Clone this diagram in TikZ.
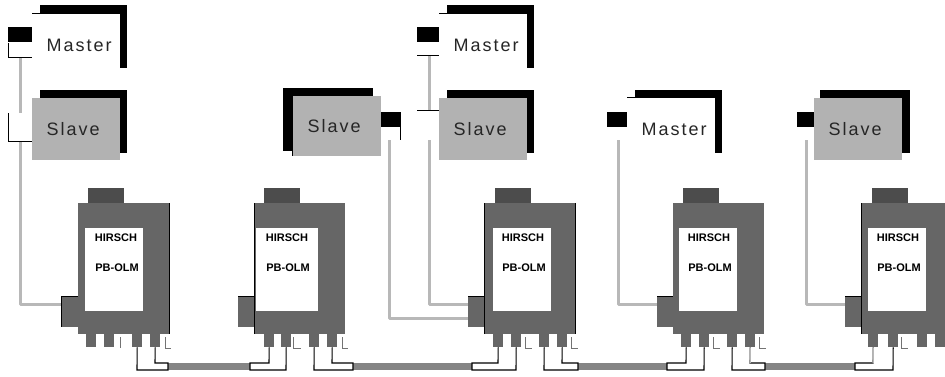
\documentclass[tikz,border=0pt]{standalone}
\usepackage{fontspec}
\setmainfont{Liberation Sans}
\newfontfamily\spacedfont[LetterSpace=11]{Liberation Sans}
\definecolor{bodygray}{gray}{0.40}
\definecolor{tabgray}{gray}{0.30}
\definecolor{slavegray}{gray}{0.70}
\definecolor{cablegray}{gray}{0.72}
\definecolor{busgray}{gray}{0.52}
\tikzset{
    box_shadow/.style={
        rectangle, fill=black, inner sep=0pt, minimum width=87pt, minimum height=63pt, anchor=north west
    },
    box_master/.style={
        rectangle, fill=white, inner sep=0pt, text width=88pt, minimum height=62pt, anchor=north west,
        align=left, font=\spacedfont\fontsize{18}{20}\selectfont, text=black!85,
        execute at begin node=\hspace*{14.5pt}
    },
    box_slave/.style={
        box_master, fill=slavegray
    },
    plug/.style={
        rectangle, fill=black, inner sep=0pt, minimum width=22pt, minimum height=15pt, anchor=north west
    },
    olm_body/.style={
        rectangle, fill=bodygray, inner sep=0pt, minimum width=91pt, minimum height=131pt, anchor=north west
    },
    olm_tab/.style={
        rectangle, fill=tabgray, inner sep=0pt, minimum width=36pt, minimum height=15pt, anchor=south west
    },
    olm_label/.style={
        rectangle, fill=white, inner sep=0pt, minimum width=58pt, minimum height=83pt, anchor=north west
    },
    olm_side/.style={
        rectangle, fill=bodygray, inner sep=0pt, minimum width=16pt, minimum height=31pt, anchor=north east
    },
    olm_port/.style={
        rectangle, fill=bodygray, inner sep=0pt, minimum width=10pt, minimum height=13pt, anchor=north west
    },
    olm_text/.style={
        font=\bfseries\fontsize{11}{12}\selectfont, inner sep=0pt
    },
    cable/.style={draw=cablegray, line width=3pt, line join=round},
    bus/.style={draw=busgray, line width=7.5pt},
    fibre/.style={draw=black, fill=white, line width=1.1pt},
    edge/.style={draw=black, line width=1pt},
    tick/.style={draw=black!55, line width=1pt}
}
\begin{document}
\begin{tikzpicture}[x=1pt, y=-1pt]
    \useasboundingbox (0,0) rectangle (945,376);

    % stations, top row
    \node[box_shadow] (shadowa) at (40,5) {};
    \node[box_master] (mastera) at (32,14) {Master};
    \node[plug, minimum width=24pt] (pluga) at (8,27) {};
    \node[box_shadow] (shadowb) at (40,90) {};
    \node[box_slave] (slavea) at (32,98) {Slave};
    \node[box_shadow, minimum width=90pt] (shadowc) at (283,88) {};
    \node[box_slave, minimum height=60pt] (slaveb) at (293,96) {Slave};
    \node[plug, minimum width=20pt] (plugb) at (381,112) {};
    \node[box_shadow] (shadowd) at (447,5) {};
    \node[box_master] (masterb) at (439,14) {Master};
    \node[plug] (plugc) at (417,27) {};
    \node[box_shadow] (shadowe) at (447,90) {};
    \node[box_slave] (slavec) at (439,98) {Slave};
    \node[box_shadow] (shadowf) at (635,90) {};
    \node[box_master] (masterc) at (627,98) {Master};
    \node[plug, minimum width=20pt] (plugd) at (607,112) {};
    \node[box_shadow, minimum width=90pt] (shadowg) at (820,90) {};
    \node[box_slave] (slaved) at (814,98) {Slave};
    \node[plug, minimum width=17pt] (pluge) at (797,112) {};

    % plug ends
    \coordinate (enda) at (20,57);
    \coordinate (endb) at (20,113);
    \coordinate (endc) at (20,141);
    \coordinate (endd) at (389,140);
    \coordinate (ende) at (429,55);
    \coordinate (endf) at (429,110);
    \coordinate (endg) at (429,140);
    \coordinate (endh) at (618,140);
    \coordinate (endi) at (806,140);

    % modules
    \node[olm_body] (olma) at (78,203) {};
    \node[olm_body] (olmb) at (254,203) {};
    \node[olm_body] (olmc) at (484,203) {};
    \node[olm_body] (olmd) at (673,203) {};
    \node[olm_body, minimum width=84pt] (olme) at (861,203) {};
    \node[olm_tab] (taba) at (88,203) {};
    \node[olm_tab] (tabb) at (264,203) {};
    \node[olm_tab] (tabc) at (495,203) {};
    \node[olm_tab] (tabd) at (683,203) {};
    \node[olm_tab] (tabe) at (872,203) {};
    \node[olm_label] (labela) at (85,228) {};
    \node[olm_label, minimum width=62pt] (labelb) at (256,228) {};
    \node[olm_label] (labelc) at (493,228) {};
    \node[olm_label] (labeld) at (679,228) {};
    \node[olm_label] (labele) at (868,228) {};
    \foreach \olm/\xpos in {a/117, b/288, c/524, d/710, e/899}{
        \node[olm_text] (top\olm) at (\xpos-1,238) {HIRSCH};
        \node[olm_text] (type\olm) at (\xpos,268) {PB-OLM};
    }
    \node[olm_side] (sidea) at (78,296) {};
    \node[olm_side] (sideb) at (254,296) {};
    \node[olm_side] (sidec) at (484,296) {};
    \node[olm_side] (sided) at (673,296) {};
    \node[olm_side] (sidee) at (861,296) {};

    % ports
    \foreach \olm/\xa/\xb/\xc/\xd in {a/86/104/132/150, b/264/281/309/327, c/493/511/539/557, d/681/699/727/745, e/868/888/917/935}{
        \node[olm_port] (port\olm a) at (\xa,334) {};
        \node[olm_port] (port\olm b) at (\xb,334) {};
        \node[olm_port] (port\olm c) at (\xc,334) {};
        \node[olm_port] (port\olm d) at (\xd,334) {};
    }

    % bus
    \draw[bus] (168,366.5) -- (250,366.5);
    \draw[bus] (353,366.5) -- (472,366.5);
    \draw[bus] (578,366.5) -- (667,366.5);
    \draw[bus] (765,366.5) -- (855,366.5);

    % fibre pieces
    \draw[fibre] (portac.south) -- (137,370) -- (168,370) -- (168,363) -- (155,363) -- (portad.south);
    \draw[fibre] (portbb.south) -- (286,370) -- (250,370) -- (250,363) -- (269,363) -- (portba.south);
    \draw[fibre] (portbc.south) -- (314,370) -- (353,370) -- (353,363) -- (332,363) -- (portbd.south);
    \draw[fibre] (portcb.south) -- (516,370) -- (472,370) -- (472,363) -- (498,363) -- (portca.south);
    \draw[fibre] (portcc.south) -- (544,370) -- (578,370) -- (578,363) -- (562,363) -- (portcd.south);
    \draw[fibre] (portdb.south) -- (704,370) -- (667,370) -- (667,363) -- (686,363) -- (portda.south);
    \draw[fibre] (portdc.south) -- (732,370) -- (765,370) -- (765,363) -- (750,363) -- (portdd.south);
    \draw[fibre] (porteb.south) -- (893,370) -- (855,370) -- (855,363) -- (873,363) -- (portea.south);
    \draw[cable, line width=1.5pt] (portdd.south) -- (750,363);
    \draw[cable, line width=1.5pt] (portea.south) -- (873,363);

    % cables
    \draw[cable] (enda) -- (endb);
    \draw[cable] (endc) |- (sidea.west |- 0,304);
    \draw[cable] (endd) |- (sidec.west |- 0,318);
    \draw[cable] (ende) -- (endf);
    \draw[cable] (endg) |- (sidec.west |- 0,304);
    \draw[cable] (endh) |- (sided.west |- 0,304);
    \draw[cable] (endi) |- (sidee.west |- 0,304);

    % thin edges
    \draw[edge] (8,43) -- (8,57) -- (32,57);
    \draw[edge] (8,113) -- (8,141) -- (32,141);
    \draw[edge] (400.5,126) -- (400.5,140);
    \draw[edge] (292.5,149) -- (292.5,156);
    \draw[edge] (417,55) -- (439,55);
    \draw[edge] (417,110) -- (439,110);
    \draw[edge] (32,13.5) -- (40,13.5);
    \draw[edge] (439,13.5) -- (447,13.5);
    \draw[edge] (627,97.5) -- (635,97.5);
    \draw[edge] (olma.north east) -- (olma.south east);
    \draw[edge] (olmb.north west) -- (olmb.south west);
    \draw[edge] (olmc.north west) -- (olmc.south west);
    \draw[edge] (olmc.north east) -- (olmc.south east);
    \draw[edge] (olme.north west) -- (olme.south west);
    \draw[edge] (sidea.north east) -- (sidea.north west) -- (sidea.south west);
    \draw[edge] (sideb.north east) -- (sideb.north west);
    \draw[edge] (sidec.north east) -- (sidec.north west);
    \draw[edge] (sided.north east) -- (sided.north west);
    \draw[edge] (sidee.north east) -- (sidee.north west);

    % marks beside the ports
    \draw[tick] (120.5,337) -- (120.5,348);
    \draw[tick] (165,337) -- (165,348) -- (171,348);
    \draw[tick] (293,337) -- (293,348) -- (301,348);
    \draw[tick] (342,337) -- (342,348) -- (348,348);
    \draw[tick] (525,337) -- (525,348) -- (532,348);
    \draw[tick] (571,337) -- (571,348) -- (578,348);
    \draw[tick] (713,337) -- (713,348) -- (720,348);
    \draw[tick] (759,337) -- (759,348) -- (766,348);
    \draw[tick] (901,337) -- (901,348) -- (908,348);
\end{tikzpicture}
\end{document}
